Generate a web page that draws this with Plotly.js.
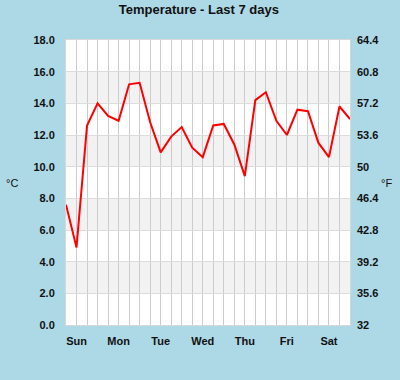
<!DOCTYPE html>
<html>
<head>
<meta charset="utf-8">
<script src="https://cdn.plot.ly/plotly-3.0.1.min.js"></script>
<style>
  html, body { margin: 0; padding: 0; background: #ADD8E6; }
  #chart { width: 400px; height: 380px; }
</style>
</head>
<body>
<div id="chart"></div>
<script>
// Readings every 6 hours (°C)
const times = [
  '2024-01-06 18:00',
  '2024-01-07 00:00', '2024-01-07 06:00', '2024-01-07 12:00', '2024-01-07 18:00',
  '2024-01-08 00:00', '2024-01-08 06:00', '2024-01-08 12:00', '2024-01-08 18:00',
  '2024-01-09 00:00', '2024-01-09 06:00', '2024-01-09 12:00', '2024-01-09 18:00',
  '2024-01-10 00:00', '2024-01-10 06:00', '2024-01-10 12:00', '2024-01-10 18:00',
  '2024-01-11 00:00', '2024-01-11 06:00', '2024-01-11 12:00', '2024-01-11 18:00',
  '2024-01-12 00:00', '2024-01-12 06:00', '2024-01-12 12:00', '2024-01-12 18:00',
  '2024-01-13 00:00', '2024-01-13 06:00', '2024-01-13 12:00'
];
const tempC = [
  7.6,
  4.9, 12.6, 14.0, 13.2,
  12.9, 15.2, 15.3, 12.8,
  10.9, 11.9, 12.5, 11.2,
  10.6, 12.6, 12.7, 11.4,
  9.4, 14.2, 14.7, 12.9,
  12.0, 13.6, 13.5, 11.5,
  10.6, 13.8, 13.0
];
const celsiusTicks = [0, 2, 4, 6, 8, 10, 12, 14, 16, 18];
const bandRanges = [[2, 4], [6, 8], [10, 12], [14, 16]];
const xRange = ['2024-01-06 18:00', '2024-01-13 12:00'];

const toF = c => Math.round((c * 1.8 + 32) * 10) / 10;
const fTicks = celsiusTicks.map(toF);
const fTickText = fTicks.map(v => String(v));

const tickFont = { family: 'Liberation Sans, Arial, sans-serif', size: 11, color: '#111', weight: 'bold' };

const traces = [
  {
    x: times, y: tempC, type: 'scatter', mode: 'lines',
    line: { color: '#ff0000', width: 2 },
    hoverinfo: 'x+y', showlegend: false
  },
  {
    x: times, y: tempC.map(toF), type: 'scatter', mode: 'lines',
    yaxis: 'y2', line: { color: 'rgba(0,0,0,0)', width: 0 },
    hoverinfo: 'skip', showlegend: false
  }
];

const layout = {
  width: 400, height: 380,
  paper_bgcolor: '#ADD8E6',
  plot_bgcolor: '#ffffff',
  margin: { l: 66, r: 50, t: 40, b: 55, pad: 0 },
  title: {
    text: '<b>Temperature - Last 7 days</b>',
    font: { family: 'Liberation Sans, Arial, sans-serif', size: 13, color: '#111' },
    x: 0.497, xanchor: 'center', y: 0.975, yanchor: 'middle'
  },
  xaxis: {
    type: 'date',
    range: xRange,
    tickformat: '%a',
    tick0: '2024-01-07',
    dtick: 86400000,
    ticks: '',
    ticklabelstandoff: 6,
    tickfont: tickFont,
    showgrid: true, gridcolor: '#cccccc', gridwidth: 1,
    minor: { dtick: 21600000, tick0: '2024-01-07', showgrid: true, gridcolor: '#cccccc', gridwidth: 1, ticks: '' },
    showline: true, linecolor: '#d8d8d8', linewidth: 1, mirror: true,
    zeroline: false, fixedrange: true
  },
  yaxis: {
    range: [0, 18],
    tickvals: celsiusTicks,
    tickformat: '.1f',
    ticks: '',
    ticklabelstandoff: 8,
    tickfont: tickFont,
    showgrid: true, gridcolor: '#dddddd', gridwidth: 1,
    showline: true, linecolor: '#d8d8d8', linewidth: 1, mirror: true,
    zeroline: false, fixedrange: true
  },
  yaxis2: {
    overlaying: 'y', side: 'right',
    range: [toF(0), toF(18)],
    tickvals: fTicks, ticktext: fTickText,
    ticks: '',
    ticklabelstandoff: 6,
    tickfont: tickFont,
    showgrid: false, zeroline: false, showline: false, fixedrange: true
  },
  shapes: bandRanges.map(r => ({
    type: 'rect', xref: 'paper', yref: 'y', x0: 0, x1: 1, y0: r[0], y1: r[1],
    fillcolor: '#f2f2f2', line: { width: 0 }, layer: 'below'
  })),
  annotations: [
    { text: '°C', xref: 'paper', yref: 'paper', x: -0.19, y: 0.5, xanchor: 'center', yanchor: 'middle',
      showarrow: false, font: { family: 'Liberation Sans, Arial, sans-serif', size: 11, color: '#111' } },
    { text: '°F', xref: 'paper', yref: 'paper', x: 1.13, y: 0.5, xanchor: 'center', yanchor: 'middle',
      showarrow: false, font: { family: 'Liberation Sans, Arial, sans-serif', size: 11, color: '#111' } }
  ],
  hovermode: 'closest'
};

Plotly.newPlot('chart', traces, layout, { displayModeBar: false, staticPlot: false });
</script>
</body>
</html>
